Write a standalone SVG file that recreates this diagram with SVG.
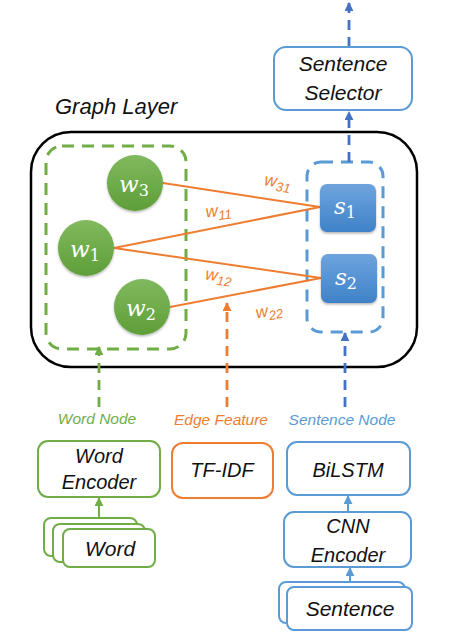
<svg xmlns="http://www.w3.org/2000/svg" width="454" height="637" viewBox="0 0 454 637">
<defs>
<linearGradient id="gG" x1="0" y1="0" x2="0" y2="1"><stop offset="0" stop-color="#80b95e"/><stop offset="1" stop-color="#5e9e38"/></linearGradient>
<linearGradient id="gB" x1="0" y1="0" x2="0" y2="1"><stop offset="0" stop-color="#6fa4de"/><stop offset="1" stop-color="#3e82c8"/></linearGradient>
<filter id="sh" x="-20%" y="-20%" width="140%" height="150%"><feDropShadow dx="0" dy="1.5" stdDeviation="1.2" flood-color="#000" flood-opacity="0.3"/></filter>
<marker id="aB" viewBox="0 0 10 10" refX="9" refY="5" markerWidth="9" markerHeight="9" markerUnits="userSpaceOnUse" orient="auto"><path d="M0,0 L10,5 L0,10 z" fill="#4472c4"/></marker>
<marker id="aG" viewBox="0 0 10 10" refX="9" refY="5" markerWidth="9" markerHeight="9" markerUnits="userSpaceOnUse" orient="auto"><path d="M0,0 L10,5 L0,10 z" fill="#70ad47"/></marker>
<marker id="aO" viewBox="0 0 10 10" refX="9" refY="5" markerWidth="9" markerHeight="9" markerUnits="userSpaceOnUse" orient="auto"><path d="M0,0 L10,5 L0,10 z" fill="#ed7d31"/></marker>
<marker id="aL" viewBox="0 0 10 10" refX="9" refY="5" markerWidth="9" markerHeight="9" markerUnits="userSpaceOnUse" orient="auto"><path d="M0,0 L10,5 L0,10 z" fill="#5b9bd5"/></marker>
</defs>
<style>
text{font-family:"Liberation Sans",Arial,sans-serif;font-style:italic}
.t{font-size:20px;fill:#111;text-anchor:middle}
.t2{font-size:21px;fill:#111;text-anchor:middle}
.lab{font-size:15.5px;text-anchor:middle}
.math{font-family:"DejaVu Serif","Liberation Serif",serif;font-style:italic;fill:#fff;font-size:23px}
.sub{font-style:normal;font-size:16px}
.ew{font-size:17px;fill:#ed7d31;text-anchor:middle}
.esub{font-size:13px}
.boxG{fill:#fff;stroke:#70ad47;stroke-width:2}
.boxB{fill:#fff;stroke:#5b9bd5;stroke-width:2}
.boxO{fill:#fff;stroke:#ed7d31;stroke-width:2}
.edge{stroke:#ed7d31;stroke-width:2;fill:none}
.dash{stroke-width:2.8;stroke-dasharray:10,7;fill:none}
</style>

<text x="55" y="114" style="font-size:22px;fill:#111">Graph Layer</text>

<g id="graph-layer"><rect x="31" y="132" width="386" height="235" rx="40" fill="#fff" stroke="#000" stroke-width="2.5"/></g>

<g id="word-group"><rect x="46" y="146" width="140" height="203" rx="16" fill="none" stroke="#70ad47" stroke-width="3" stroke-dasharray="12,8"/></g>
<g id="sent-group"><rect x="307" y="162" width="76" height="170" rx="14" fill="none" stroke="#5b9bd5" stroke-width="3" stroke-dasharray="12,8"/></g>

<g id="connectors">
<line class="edge" x1="163" y1="183" x2="320" y2="207"/>
<line class="edge" x1="114" y1="248" x2="320" y2="207"/>
<line class="edge" x1="114" y1="248" x2="321" y2="278"/>
<line class="edge" x1="170" y1="307" x2="321" y2="278"/>
<text class="ew" transform="translate(277,187) rotate(9)">w<tspan class="esub" dy="4">31</tspan></text>
<text class="ew" transform="translate(219,216) rotate(-7)">w<tspan class="esub" dy="4">11</tspan></text>
<text class="ew" transform="translate(218,281) rotate(8)">w<tspan class="esub" dy="4">12</tspan></text>
<text class="ew" transform="translate(270,316) rotate(-11)">w<tspan class="esub" dy="4">22</tspan></text>
<line class="dash" stroke="#4472c4" x1="349" y1="47" x2="349" y2="3" marker-end="url(#aB)"/>
<line class="dash" stroke="#4472c4" x1="349" y1="162" x2="349" y2="112" marker-end="url(#aB)"/>
<line class="dash" stroke="#70ad47" x1="99" y1="407" x2="99" y2="347" marker-end="url(#aG)"/>
<line class="dash" stroke="#ed7d31" x1="227" y1="407" x2="227" y2="303" marker-end="url(#aO)"/>
<line class="dash" stroke="#4472c4" x1="345" y1="407" x2="345" y2="333" marker-end="url(#aB)"/>
<line stroke="#70ad47" stroke-width="2" x1="99" y1="518" x2="99" y2="498" marker-end="url(#aG)"/>
<line stroke="#5b9bd5" stroke-width="2" x1="348" y1="512" x2="348" y2="496" marker-end="url(#aL)"/>
<line stroke="#5b9bd5" stroke-width="2" x1="350" y1="582" x2="350" y2="568" marker-end="url(#aL)"/>
</g>

<g id="w3"><circle cx="135" cy="183" r="28" fill="url(#gG)" filter="url(#sh)"/><text class="math" x="119" y="192">w<tspan class="sub" dy="4">3</tspan></text></g>
<g id="w1"><circle cx="86" cy="248" r="28" fill="url(#gG)" filter="url(#sh)"/><text class="math" x="70" y="257">w<tspan class="sub" dy="4">1</tspan></text></g>
<g id="w2"><circle cx="142" cy="307" r="28" fill="url(#gG)" filter="url(#sh)"/><text class="math" x="126" y="316">w<tspan class="sub" dy="4">2</tspan></text></g>
<g id="s1"><rect x="320" y="184" width="56" height="48" rx="7" fill="url(#gB)" filter="url(#sh)"/><text class="math" x="334" y="214">s<tspan class="sub" dy="4">1</tspan></text></g>
<g id="s2"><rect x="321" y="254" width="56" height="49" rx="7" fill="url(#gB)" filter="url(#sh)"/><text class="math" x="335" y="285">s<tspan class="sub" dy="4">2</tspan></text></g>

<g id="sentence-selector"><rect class="boxB" x="274" y="47" width="138" height="63" rx="12"/><text class="t2" x="343" y="71">Sentence</text><text class="t2" x="343" y="100">Selector</text></g>

<g id="labels">
<text class="lab" x="97" y="424" fill="#70ad47">Word Node</text>
<text class="lab" x="221" y="425" fill="#ed7d31">Edge Feature</text>
<text class="lab" x="342" y="425" fill="#5b9bd5">Sentence Node</text>
</g>

<g id="word-encoder"><rect class="boxG" x="38" y="441" width="122" height="56" rx="10"/><text class="t" x="99" y="463">Word</text><text class="t" x="99" y="489">Encoder</text></g>
<g id="tfidf"><rect class="boxO" x="172" y="443" width="101" height="55" rx="11"/><text class="t" x="222" y="477">TF-IDF</text></g>
<g id="bilstm"><rect class="boxB" x="287" y="442" width="123" height="53" rx="10"/><text class="t" x="348" y="477">BiLSTM</text></g>
<g id="cnn-encoder"><rect class="boxB" x="284" y="512" width="127" height="55" rx="10"/><text class="t" x="348" y="533">CNN</text><text class="t" x="348" y="562">Encoder</text></g>

<g id="word">
<rect class="boxG" x="44" y="518" width="93" height="38" rx="7"/>
<rect class="boxG" x="53" y="524" width="92" height="38" rx="7"/>
<rect class="boxG" x="63" y="529" width="92" height="38" rx="7"/>
<text class="t2" x="110" y="556">Word</text>
</g>
<g id="sentence">
<rect class="boxB" x="279" y="582" width="126" height="41" rx="7"/>
<rect class="boxB" x="287" y="587" width="125" height="43" rx="7"/>
<text class="t2" x="350" y="616">Sentence</text>
</g>
</svg>
